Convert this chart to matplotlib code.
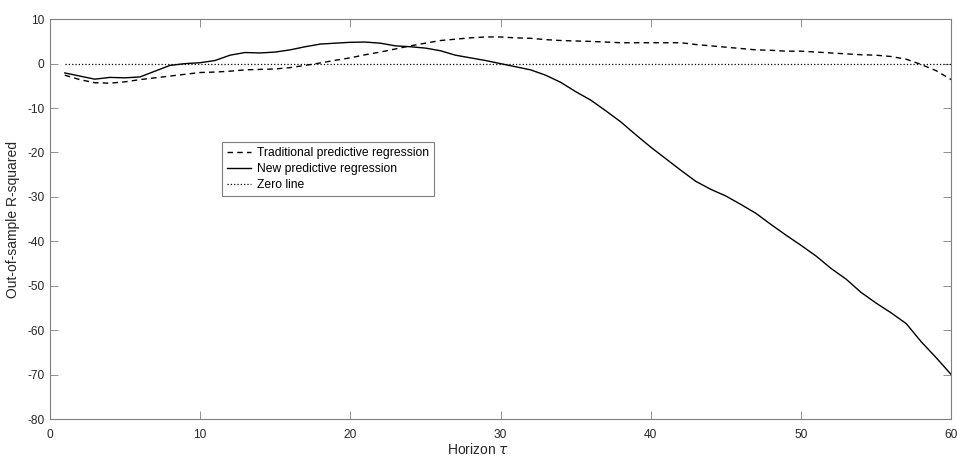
import numpy as np
import matplotlib.pyplot as plt

plt.rcParams['font.family'] = ['Liberation Sans', 'DejaVu Sans']
plt.rcParams['axes.unicode_minus'] = False

# horizon 1..60
horizon = np.arange(1, 61)

# traditional predictive regression (dashed)
trad = [-2.6, -3.6, -4.3, -4.4, -4.1, -3.6, -3.2, -2.8, -2.4, -2.0,
        -1.9, -1.7, -1.4, -1.3, -1.2, -0.9, -0.4, 0.15, 0.75, 1.3,
        2.0, 2.6, 3.3, 4.0, 4.6, 5.2, 5.5, 5.8, 6.0, 6.0,
        5.8, 5.7, 5.4, 5.2, 5.1, 5.0, 4.85, 4.7, 4.7, 4.7,
        4.7, 4.7, 4.3, 4.0, 3.7, 3.4, 3.1, 3.0, 2.8, 2.8,
        2.6, 2.4, 2.2, 2.0, 1.9, 1.6, 1.0, -0.2, -1.6, -3.6]

# new predictive regression (solid)
new = [-2.1, -2.8, -3.5, -3.1, -3.2, -3.0, -1.7, -0.4, 0.0, 0.2,
       0.7, 1.9, 2.5, 2.4, 2.6, 3.1, 3.8, 4.4, 4.6, 4.8,
       4.85, 4.6, 4.0, 3.8, 3.5, 2.9, 1.9, 1.3, 0.7, 0.0,
       -0.7, -1.4, -2.6, -4.2, -6.3, -8.2, -10.6, -13.1, -16.0, -18.8,
       -21.4, -24.0, -26.5, -28.3, -29.8, -31.7, -33.7, -36.2, -38.6, -40.9,
       -43.3, -46.1, -48.5, -51.5, -53.9, -56.1, -58.5, -62.6, -66.2, -70.0]

zero = np.zeros(len(horizon))

fig = plt.figure(figsize=(9.57, 4.57), dpi=100)
ax = fig.add_axes([0.052, 0.083, 0.942, 0.875])

ax.plot(horizon, trad, 'k--', lw=1.0, dashes=(4, 3), label='Traditional predictive regression')
ax.plot(horizon, new, 'k-', lw=1.0, label='New predictive regression')
ax.plot(horizon, zero, 'k:', lw=0.9, label='Zero line')

ax.set_xlim(0, 60)
ax.set_ylim(-80, 10)
ax.set_xticks(np.arange(0, 61, 10))
ax.set_yticks(np.arange(-80, 11, 10))

grey = '#262626'
for s in ax.spines.values():
    s.set_color('#7f7f7f')
    s.set_linewidth(0.8)
ax.tick_params(direction='in', top=True, right=True, length=6, width=0.6,
               color='#7f7f7f', labelcolor=grey, labelsize=8.6)
ax.tick_params(axis='x', pad=7)
ax.tick_params(axis='y', pad=4)

ax.set_xlabel(r'Horizon $\tau$', fontsize=10, color=grey)
ax.xaxis.set_label_coords(0.475, -0.058)
ax.set_ylabel('Out-of-sample R-squared', fontsize=10, color=grey, labelpad=5)

leg = ax.legend(loc='lower left', bbox_to_anchor=(0.191, 0.5575), borderaxespad=0,
                fancybox=False, edgecolor='#7f7f7f', fontsize=8.7, handlelength=2.0,
                labelspacing=0.33, handletextpad=0.5, borderpad=0.4, framealpha=1)
leg.get_frame().set_linewidth(0.8)

fig.savefig('out.png', dpi=100)
